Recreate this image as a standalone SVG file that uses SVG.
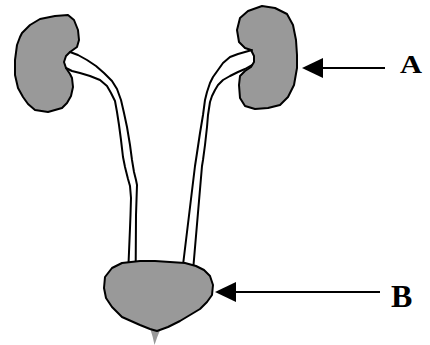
<svg xmlns="http://www.w3.org/2000/svg" width="430" height="345" viewBox="0 0 430 345">
<style>
.organ{fill:#999999;stroke:#000;stroke-width:2;stroke-linejoin:round}
.duct{fill:none;stroke:#000;stroke-width:2;stroke-linejoin:round;stroke-linecap:round}
.ptr{stroke:#000;stroke-width:2;fill:none}
.lbl{font-family:"Liberation Serif","Times New Roman",serif;font-weight:bold;fill:#000}
</style>
<defs>
<marker id="head" markerUnits="userSpaceOnUse" markerWidth="22" markerHeight="22" refX="11" refY="10" orient="auto" viewBox="0 0 22 20">
<path d="M0,0 L21,10 L0,20 Z" fill="#000"/>
</marker>
</defs>
<rect width="430" height="345" fill="#fff"/>
<g id="kidney-left">
<path class="organ" d="M22,33 L30,25 L40,19 L55,16 L68,15 L74,20 L78,30 L79,40 L77,47 L70,52 L66,56 L64,62 L66,68 L70,74 L72,78 L73,87 L71,96 L67,103 L62,108 L48,112 L35,110 L28,104 L23,97 L18,88 L15,75 L15,60 L17,45 L20,37 Z"/>
</g>
<g id="kidney-right">
<path class="organ" d="M262,6 L275,8 L287,14 L293,25 L296,40 L297,55 L297,68 L294,85 L288,97 L280,105 L268,108 L255,109 L245,106 L240,98 L239,85 L240,76 L245,71 L251,67 L254,62 L254,56 L251,50 L245,48 L239,42 L237,30 L240,18 L248,11 Z"/>
</g>
<g id="ureters">
<path class="duct" d="M70,52 L78,55 L87,60 L96,66 L104,73 L112,81 L117,89 L121,100 L124,113 L127,127 L130,145 L132,160 L134,172 L136,180 L137,185 L136.5,200 L136,215 L135.7,264"/>
<path class="duct" d="M66,68 L72,71 L80,73 L90,76 L100,80 L107,86 L111,93 L115,101 L117,112 L119,125 L121,140 L123,157 L125,167 L128,179 L130,186 L131,198 L130.5,215 L130,228 L128.5,264"/>
<path class="duct" d="M252,50 L245,52 L238,54 L230,57 L223,63 L218,70 L213,77 L210,83 L207,92 L205,100 L203,115 L200,133 L197,153 L195,166 L183,265"/>
<path class="duct" d="M252,65 L245,69 L238,72 L230,76 L223,80 L218,85 L215,90 L212,96 L210,102 L208,115 L207,127 L205,145 L203,160 L202,166 L193.5,265"/>
</g>
<g id="bladder">
<path d="M150,328 Q153,337 154.5,345 Q157,337 161,328 Z" fill="#999999"/>
<path class="organ" stroke-width="1.6" d="M105,277 L112,268 L122,263 L140,261 L155,261 L170,262 L185,263 L196,266 L204,270 L210,276 L213,285 L212,295 L207,302 L200,309 L190,315 L180,321 L168,327 L157,331 L150,329 L140,325 L122,317 L112,307 L106,298 L104,288 Z"/>
</g>
<g id="pointers">
<line class="ptr" x1="385" y1="68" x2="312" y2="68" marker-end="url(#head)"/>
<line class="ptr" x1="380" y1="292" x2="225" y2="292" marker-end="url(#head)"/>
</g>
<g id="label-A">
<text class="lbl" x="400" y="72.5" font-size="25" textLength="22" lengthAdjust="spacingAndGlyphs">A</text>
</g>
<g id="label-B">
<text class="lbl" x="391" y="306.5" font-size="32">B</text>
</g>
</svg>
